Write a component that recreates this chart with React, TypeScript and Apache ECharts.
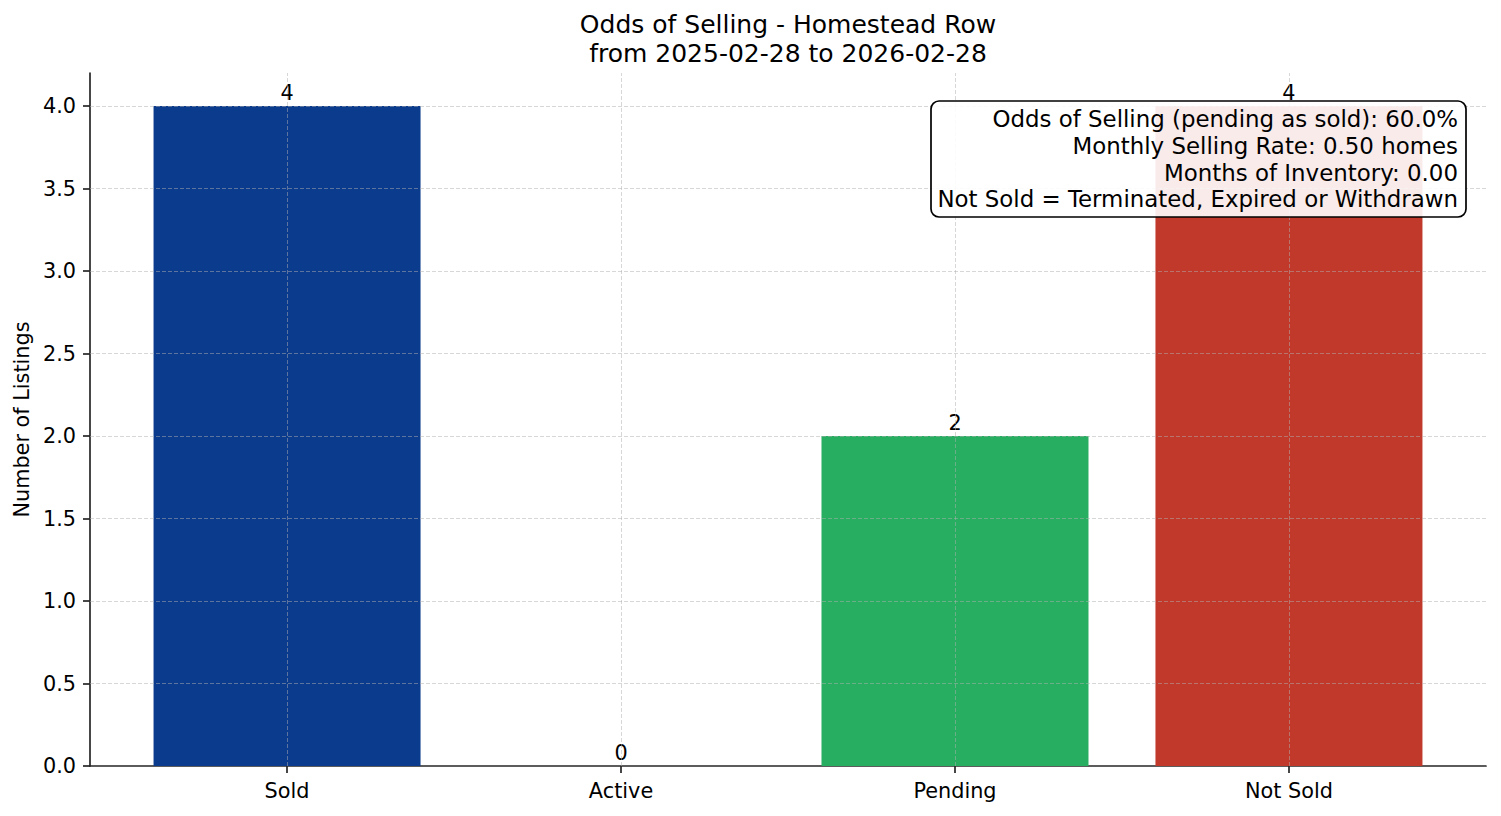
import React, { useEffect, useRef } from "react";
import * as echarts from "echarts";

const categories = ["Sold", "Active", "Pending", "Not Sold"];
const listingCounts = [4, 0, 2, 4];
const barColors = ["#0b3b8d", "#0b3b8d", "#27ae60", "#c0392b"];
const yTicks = [0.5, 1.0, 1.5, 2.0, 2.5, 3.0, 3.5, 4.0];
const categoryPositions = [0, 1, 2, 3];
const titleLines = ["Odds of Selling - Homestead Row", "from 2025-02-28 to 2026-02-28"];
const infoLines = [
  "Odds of Selling (pending as sold): 60.0%",
  "Monthly Selling Rate: 0.50 homes",
  "Months of Inventory: 0.00",
  "Not Sold = Terminated, Expired or Withdrawn",
];

const FONT = "DejaVu Sans";
const AXIS_COLOR = "#262626";
const GRID_COLOR = "rgba(176,176,176,0.5)";

export default function App() {
  const ref = useRef<HTMLDivElement>(null);

  useEffect(() => {
    if (!ref.current) return;
    const chart = echarts.init(ref.current, null, { renderer: "svg" });

    const gridLineStyle = { color: GRID_COLOR, width: 1, type: [4, 2] as any };

    const option: any = {
      animation: false,
      backgroundColor: "#ffffff",
      textStyle: { fontFamily: FONT },
      title: {
        text: titleLines.join("\n"),
        left: 783,
        top: 5,
        textAlign: "center",
        textStyle: {
          fontFamily: FONT,
          fontSize: 25,
          fontWeight: "normal",
          color: "#000",
          lineHeight: 29,
        },
      },
      grid: { left: 90, right: 15, top: 73, bottom: 50, containLabel: false },
      xAxis: {
        type: "value",
        min: -0.59,
        max: 3.59,
        splitLine: { show: false },
        axisLine: { show: true, onZero: false, lineStyle: { color: AXIS_COLOR, width: 1.7 } },
        axisTick: {
          show: true,
          customValues: categoryPositions,
          length: 7,
          lineStyle: { color: AXIS_COLOR, width: 1.7 },
        },
        axisLabel: {
          customValues: categoryPositions,
          formatter: (v: number) => categories[Math.round(v)] ?? "",
          fontFamily: FONT,
          fontSize: 20.8,
          color: "#000",
          margin: 14,
        },
      },
      yAxis: {
        type: "value",
        min: 0,
        max: 4.2,
        interval: 0.5,
        name: "Number of Listings",
        nameLocation: "middle",
        nameGap: 58,
        nameTextStyle: { fontFamily: FONT, fontSize: 20.8, color: "#000" },
        splitLine: { show: false },
        axisLine: { show: true, onZero: false, lineStyle: { color: AXIS_COLOR, width: 1.7 } },
        axisTick: {
          show: true,
          customValues: [0, ...yTicks],
          length: 7,
          lineStyle: { color: AXIS_COLOR, width: 1.7 },
        },
        axisLabel: {
          customValues: [0, ...yTicks],
          formatter: (v: number) => v.toFixed(1),
          fontFamily: FONT,
          fontSize: 20.8,
          color: "#000",
          margin: 14,
        },
      },
      series: [
        {
          type: "bar",
          barWidth: 267,
          data: listingCounts.map((v, i) => ({
            value: [categoryPositions[i], v],
            itemStyle: { color: barColors[i] },
          })),
          label: {
            show: true,
            position: "top",
            distance: 3,
            formatter: (p: any) => String(p.value[1]),
            fontFamily: FONT,
            fontSize: 20.8,
            color: "#000",
          },
          markLine: {
            silent: true,
            symbol: ["none", "none"],
            label: { show: false },
            lineStyle: gridLineStyle,
            emphasis: { disabled: true },
            data: [
              ...categoryPositions.map((x) => ({ xAxis: x })),
              ...yTicks.map((y) => ({ yAxis: y })),
            ],
          },
        },
      ],
      graphic: [
        {
          type: "rect",
          z: 100,
          zlevel: 0,
          shape: { x: 931, y: 101, width: 535, height: 116, r: 8 },
          style: { fill: "rgba(255,255,255,0.9)", stroke: "#000", lineWidth: 1.7 },
        },
        {
          type: "text",
          z: 101,
          zlevel: 0,
          x: 1458,
          y: 106,
          style: {
            text: infoLines.join("\n"),
            align: "right",
            verticalAlign: "top",
            fontFamily: FONT,
            fontSize: 22.9,
            lineHeight: 26.7,
            fill: "#000",
          },
        },
      ],
    };

    chart.setOption(option);
    return () => chart.dispose();
  }, []);

  return (
    <div
      ref={ref}
      style={{ position: "fixed", left: 0, top: 0, width: 1501, height: 816 }}
    />
  );
}
